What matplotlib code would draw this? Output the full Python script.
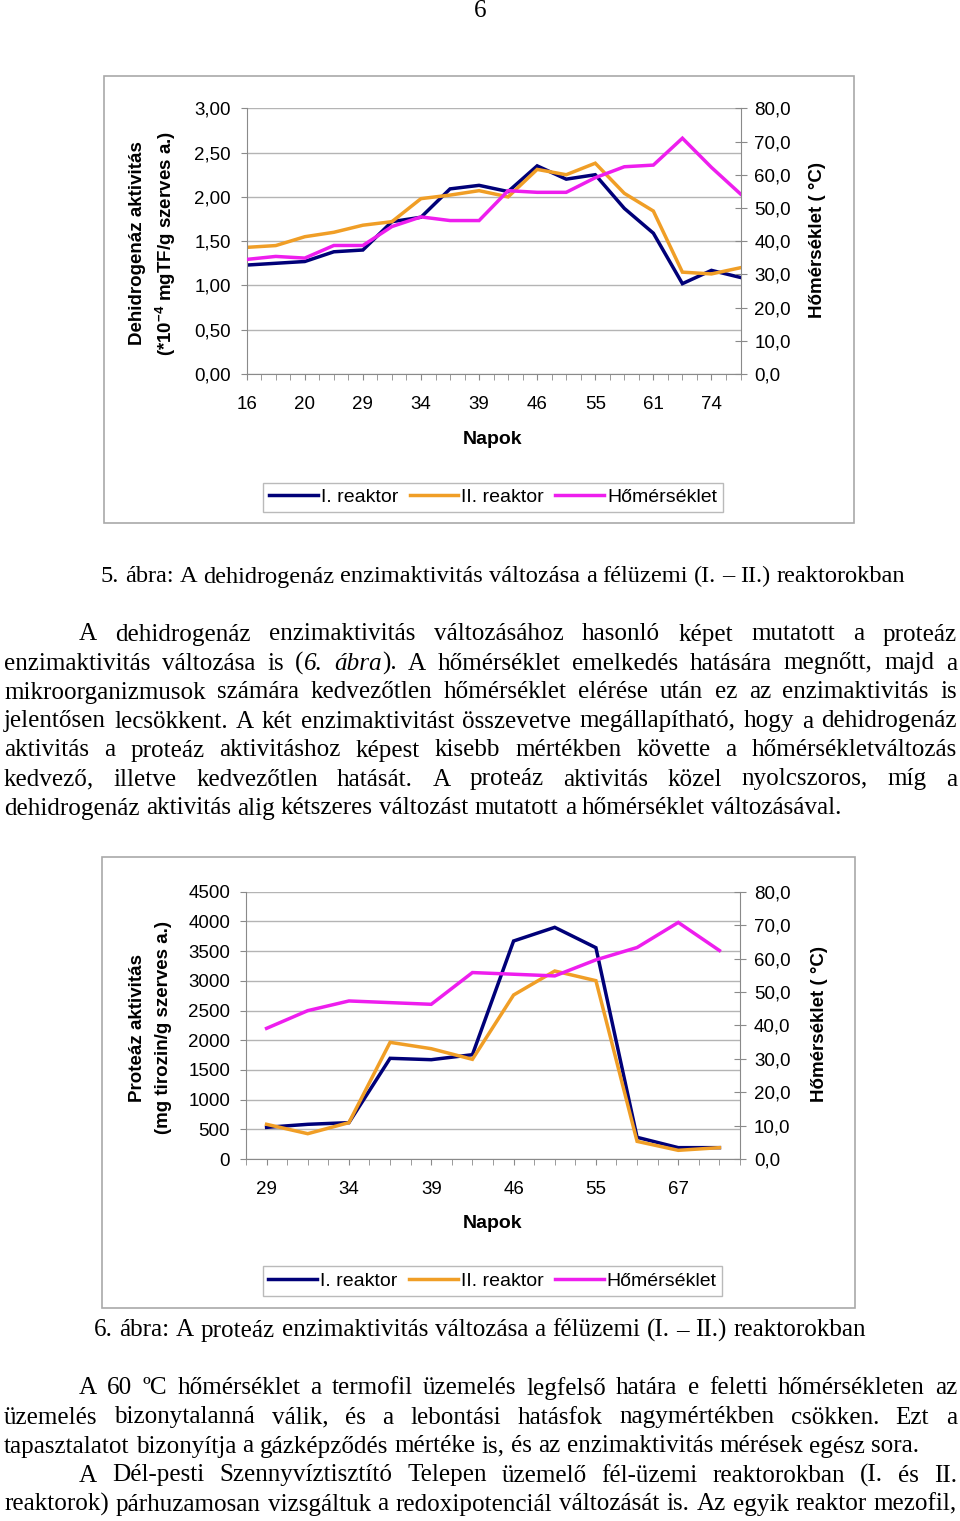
import matplotlib
matplotlib.use('Agg')
import matplotlib.pyplot as plt
from matplotlib.lines import Line2D
from matplotlib.patches import Rectangle
import numpy as np

plt.rcParams['font.family'] = ['Liberation Sans', 'DejaVu Sans']
plt.rcParams['mathtext.fontset'] = 'custom'
plt.rcParams['mathtext.rm'] = 'Liberation Sans'
plt.rcParams['mathtext.bf'] = 'Liberation Sans:bold'
plt.rcParams['mathtext.it'] = 'Liberation Sans:italic'

# ---------------- data ----------------
# Chart 1 (18 sampling points, every second labelled)
ch1_day_labels = ['16', '20', '29', '34', '39', '46', '55', '61', '74']
ch1_reactor1 = [1.23, 1.25, 1.27, 1.38, 1.40, 1.72, 1.77, 2.09, 2.13, 2.06,
                2.35, 2.20, 2.25, 1.87, 1.59, 1.02, 1.17, 1.09]
ch1_reactor2 = [1.43, 1.45, 1.55, 1.60, 1.68, 1.72, 1.98, 2.02, 2.07, 2.00,
                2.31, 2.25, 2.38, 2.04, 1.84, 1.15, 1.13, 1.20]
ch1_temp = [34.5, 35.4, 34.9, 38.7, 38.7, 44.4, 47.3, 46.2, 46.2, 55.2,
            54.7, 54.7, 59.1, 62.4, 62.9, 71.0, 62.2, 54.2]
ch1_yticks = [0.0, 0.5, 1.0, 1.5, 2.0, 2.5, 3.0]
temp_ticks = [0, 10, 20, 30, 40, 50, 60, 70, 80]

# Chart 2 (12 sampling points, every second labelled)
ch2_day_labels = ['29', '34', '39', '46', '55', '67']
ch2_reactor1 = [533, 584, 612, 1695, 1672, 1756, 3670, 3900, 3557, 365, 191, 191]
ch2_reactor2 = [584, 426, 612, 1964, 1857, 1678, 2761, 3165, 3002, 297, 146, 191]
ch2_temp = [39.1, 44.4, 47.3, 46.8, 46.3, 55.8, 55.3, 54.8, 59.6, 63.3, 70.8, 62.4]
ch2_yticks = [0, 500, 1000, 1500, 2000, 2500, 3000, 3500, 4000, 4500]

series_names = ['I. reaktor', 'II. reaktor', 'Hőmérséklet']

# ---------------- layout helpers ----------------
W, H, DPI = 960, 1521, 100
fig = plt.figure(figsize=(W / DPI, H / DPI), dpi=DPI)
fig.patch.set_facecolor('white')

overlay = fig.add_axes([0, 0, 1, 1], zorder=-1)
overlay.set_xlim(0, W)
overlay.set_ylim(H, 0)
overlay.axis('off')

C_NAVY = '#000078'
C_ORANGE = '#F09E26'
C_MAG = '#EE1EEE'
C_AX = '#8a8a8a'
C_GRID = '#b4b4b4'
LW = 2.5
TICKFS = 13.5


def px_axes(x0, y0, x1, y1):
    return fig.add_axes([x0 / W, 1 - y1 / H, (x1 - x0) / W, (y1 - y0) / H])


def style_axes(ax, axr):
    ax.spines['top'].set_visible(False)
    axr.spines['top'].set_visible(False)
    for s in ['left', 'bottom', 'right']:
        ax.spines[s].set_color(C_AX)
        axr.spines[s].set_color(C_AX)
    ax.spines['right'].set_visible(False)
    axr.spines['left'].set_visible(False)
    axr.spines['bottom'].set_visible(False)
    ax.grid(axis='y', color=C_GRID, lw=1.0)
    ax.set_axisbelow(True)
    ax.tick_params(axis='y', direction='out', length=4, color=C_AX,
                   labelsize=TICKFS, pad=7.5)
    ax.tick_params(axis='x', which='both', direction='out', length=4,
                   color=C_AX, labelsize=TICKFS, pad=12)
    axr.tick_params(axis='y', direction='inout', length=8, color=C_AX,
                    labelsize=TICKFS, pad=6)


def draw_chart(box, plot, n, xlim, labels, r1, r2, temp, yticks, ylabfmt,
               ylab1, ylab2, ylab_x, ylab_y, rlab_xy, napok_y, leg_xy):
    bx0, by0, bx1, by1 = box
    overlay.add_patch(Rectangle((bx0, by0), bx1 - bx0, by1 - by0,
                                fill=False, edgecolor='#a9a9a9', lw=1.2))
    ax = px_axes(*plot)
    axr = ax.twinx()
    x = np.arange(n)
    ax.plot(x, r1, color=C_NAVY, lw=LW, solid_joinstyle='miter')
    ax.plot(x, r2, color=C_ORANGE, lw=LW, solid_joinstyle='miter')
    axr.plot(x, temp, color=C_MAG, lw=LW, solid_joinstyle='miter')
    ax.set_xlim(*xlim)
    ax.set_ylim(yticks[0], yticks[-1])
    ax.set_yticks(yticks)
    ax.set_yticklabels([ylabfmt(v) for v in yticks])
    ax.set_xticks(x[::2][:len(labels)])
    ax.set_xticklabels(labels)
    ax.set_xticks(np.arange(xlim[0], xlim[1] + 0.01, 0.5), minor=True)
    axr.set_ylim(0, 80)
    axr.set_yticks(temp_ticks)
    axr.set_yticklabels([('%.1f' % v).replace('.', ',') for v in temp_ticks])
    style_axes(ax, axr)
    overlay.text(ylab_x[0], ylab_y, ylab1, rotation=90, ha='center',
                 va='center', fontsize=13.5, fontweight='bold')
    overlay.text(ylab_x[1], ylab_y, ylab2, rotation=90, ha='center',
                 va='center', fontsize=13.5, fontweight='bold')
    overlay.text(rlab_xy[0], rlab_xy[1], 'Hőmérséklet ( °C)', rotation=90,
                 ha='center', va='center', fontsize=13.5, fontweight='bold')
    overlay.text(493, napok_y, 'Napok', ha='center', va='center',
                 fontsize=14, fontweight='bold')
    handles = [Line2D([], [], color=c, lw=LW) for c in (C_NAVY, C_ORANGE, C_MAG)]
    leg = fig.legend(handles, series_names, loc='center',
                     bbox_to_anchor=(leg_xy[0] / W, 1 - leg_xy[1] / H),
                     ncol=3, fontsize=14, frameon=True, fancybox=False,
                     edgecolor='#a9a9a9', handlelength=2.5,
                     handletextpad=0.15, columnspacing=0.6, borderpad=0.3)
    leg.get_frame().set_linewidth(1.0)


draw_chart(box=(104, 76, 854, 523), plot=(246.7, 108.3, 740.5, 374),
           n=len(ch1_reactor1), xlim=(0, len(ch1_reactor1) - 1),
           labels=ch1_day_labels, r1=ch1_reactor1, r2=ch1_reactor2,
           temp=ch1_temp, yticks=ch1_yticks,
           ylabfmt=lambda v: ('%.2f' % v).replace('.', ','),
           ylab1='Dehidrogenáz aktivitás',
           ylab2=r'(*10$^{\mathbf{-4}}$ mgTF/g szerves a.)',
           ylab_x=(138, 166), ylab_y=243, rlab_xy=(818, 240),
           napok_y=440, leg_xy=(493, 497.5))

draw_chart(box=(102, 857, 855, 1308), plot=(246, 891.7, 740, 1159),
           n=len(ch2_reactor1), xlim=(-0.5, len(ch2_reactor1) - 0.5),
           labels=ch2_day_labels, r1=ch2_reactor1, r2=ch2_reactor2,
           temp=ch2_temp, yticks=ch2_yticks,
           ylabfmt=lambda v: '%d' % v,
           ylab1='Proteáz aktivitás',
           ylab2='(mg tirozin/g szerves a.)',
           ylab_x=(138, 164), ylab_y=1028, rlab_xy=(820, 1024),
           napok_y=1224, leg_xy=(492.5, 1281))

# ---------------- body text ----------------
SERIF = ['Liberation Serif', 'DejaVu Serif']
renderer = fig.canvas.get_renderer()


def text_width(s, fs, italic=False):
    t = overlay.text(0, 0, s, fontsize=fs, family=SERIF,
                     fontstyle='italic' if italic else 'normal')
    w = t.get_window_extent(renderer=renderer).width
    t.remove()
    return w


ref_line = 'dehidrogenáz aktivitás alig kétszeres változást mutatott a hőmérséklet változásával.'
FS = 10 * 839.0 / text_width(ref_line, 10)


def split_words(segments):
    words = [[]]
    for txt, it in segments:
        parts = txt.split(' ')
        for k, p in enumerate(parts):
            if k > 0:
                words.append([])
            if p:
                words[-1].append((p, it))
    return [w for w in words if w]


def draw_line(segments, x_left, y_center, justify, x_right=957, fs=None):
    fs = FS if fs is None else fs
    space = text_width('a a', fs) - text_width('aa', fs)
    words = split_words(segments)
    widths = []
    for w in words:
        widths.append([text_width(p, fs, it) for p, it in w])
    total = sum(sum(ws) for ws in widths)
    if justify and len(words) > 1:
        gap = (x_right - x_left - total) / (len(words) - 1)
    else:
        gap = space
    x = x_left
    yb = y_center + 6.5
    for w, ws in zip(words, widths):
        for (p, it), pw in zip(w, ws):
            overlay.text(x, yb, p, fontsize=fs, family=SERIF, va='baseline',
                         ha='left', fontstyle='italic' if it else 'normal')
            x += pw
        x += gap


# page number
overlay.text(480, 17, '6', fontsize=FS, family=SERIF, ha='center', va='baseline')

# captions (sized to the reference's line lengths)
cap1 = '5. ábra: A dehidrogenáz enzimaktivitás változása a félüzemi (I. – II.) reaktorokban'
cap2 = '6. ábra: A proteáz enzimaktivitás változása a félüzemi (I. – II.) reaktorokban'
fs_cap1 = min(FS, 10 * (905 - 101) / text_width(cap1, 10))
fs_cap2 = min(FS, 10 * (866 - 94) / text_width(cap2, 10))
draw_line([(cap1, False)], 101, 576, True, x_right=905, fs=fs_cap1)
draw_line([(cap2, False)], 94, 1330, True, x_right=866, fs=fs_cap2)

para1 = [
    ([('A dehidrogenáz enzimaktivitás változásához hasonló képet mutatott a proteáz', False)], 79, True),
    ([('enzimaktivitás változása is (', False), ('6. ábra', True),
      ('). A hőmérséklet emelkedés hatására megnőtt, majd a', False)], 4, True),
    ([('mikroorganizmusok számára kedvezőtlen hőmérséklet elérése után ez az enzimaktivitás is', False)], 4, True),
    ([('jelentősen lecsökkent. A két enzimaktivitást összevetve megállapítható, hogy a dehidrogenáz', False)], 4, True),
    ([('aktivitás a proteáz aktivitáshoz képest kisebb mértékben követte a hőmérsékletváltozás', False)], 4, True),
    ([('kedvező, illetve kedvezőtlen hatását. A proteáz aktivitás közel nyolcszoros, míg a', False)], 4, True),
    ([('dehidrogenáz aktivitás alig kétszeres változást mutatott a hőmérséklet változásával.', False)], 4, False),
]
for k, (segs, xl, just) in enumerate(para1):
    draw_line(segs, xl, 634 + 29 * k, just)

para2 = [
    ([('A 60 ºC hőmérséklet a termofil üzemelés legfelső határa e feletti hőmérsékleten az', False)], 79, True),
    ([('üzemelés bizonytalanná válik, és a lebontási hatásfok nagymértékben csökken. Ezt a', False)], 4, True),
    ([('tapasztalatot bizonyítja a gázképződés mértéke is, és az enzimaktivitás mérések egész sora.', False)], 4, False),
    ([('A Dél-pesti Szennyvíztisztító Telepen üzemelő fél-üzemi reaktorokban (I. és II.', False)], 79, True),
    ([('reaktorok) párhuzamosan vizsgáltuk a redoxipotenciál változását is. Az egyik reaktor mezofil,', False)], 4, True),
]
for k, (segs, xl, just) in enumerate(para2):
    draw_line(segs, xl, 1388 + 29 * k, just)

fig.savefig('out.png', dpi=DPI, facecolor='white')
